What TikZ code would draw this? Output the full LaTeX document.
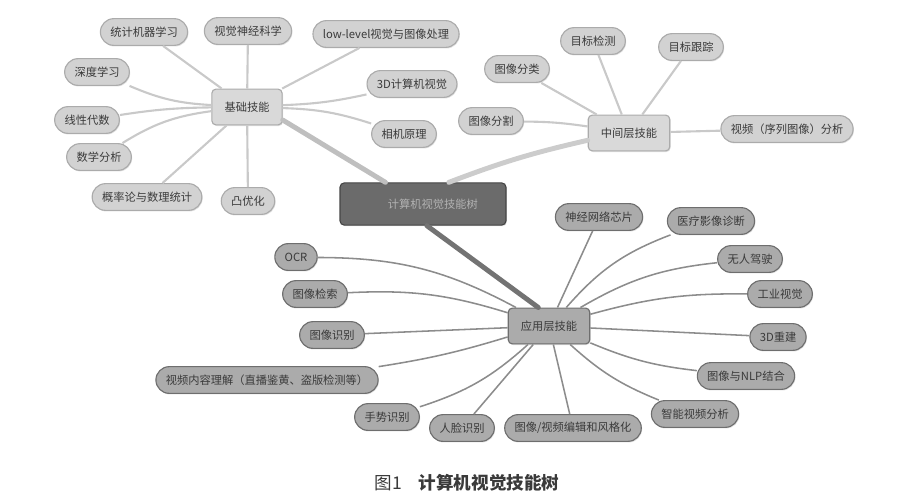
\documentclass[tikz,border=0pt]{standalone}
\usepackage{fontspec}
\newfontfamily\cjk{Noto Sans CJK SC}
\usetikzlibrary{shadows}
\definecolor{lineA}{HTML}{C9C9C9}
\definecolor{lineC}{HTML}{8C8C8C}
\definecolor{fillA}{HTML}{D2D2D2}
\definecolor{drawA}{HTML}{ABABAB}
\definecolor{fillC}{HTML}{ABABAB}
\definecolor{drawC}{HTML}{6E6E6E}
\definecolor{fillR}{HTML}{6B6B6B}
\definecolor{drawR}{HTML}{454545}
\definecolor{inkdark}{HTML}{3A3A3A}
\tikzset{
  every node/.style={font=\cjk\fontsize{8}{9}\selectfont, text=inkdark},
  softshadow/.style={drop shadow={opacity=0.25, shadow xshift=0.6pt, shadow yshift=-0.8pt}},
  leafA/.style={draw=drawA, fill=fillA, line width=0.8pt, rounded corners=9.5pt,
    minimum height=19pt, inner xsep=7pt, inner ysep=0pt, softshadow},
  leafC/.style={leafA, draw=drawC, fill=fillC},
  hubA/.style={draw=drawA, fill=fillA!85!white, line width=0.8pt, rounded corners=3pt,
    minimum height=25.5pt, inner xsep=9pt, softshadow},
  hubC/.style={hubA, draw=drawC, fill=fillC},
  rootbox/.style={draw=drawR, fill=fillR, line width=0.8pt, rounded corners=3pt,
    minimum width=118pt, minimum height=30pt, text=gray!60, softshadow},
  linkA/.style={draw=lineA, line width=1.5pt},
  linkC/.style={draw=lineC, line width=1.1pt},
  trunk/.style={line width=3.5pt, line cap=round}
}
\begin{document}
\begin{tikzpicture}[x=0.025cm,y=-0.025cm]
\useasboundingbox (0,0) rectangle (900,500);
% Draw the root and the three hubs
\node[rootbox] (root) at (423,204) {\hspace{14pt}计算机视觉技能树};
\node[hubA] (jc) at (247,107) {基础技能};
\node[hubA] (zj) at (629,133) {中间层技能};
\node[hubC] (yy) at (549,326) {应用层技能};
% Draw the trunks from the root
\draw[trunk, draw=gray!50] (root.150) to (jc.-20);
\draw[trunk, draw=gray!40] (root.40) to[bend left=4] (zj.-170);
\draw[trunk, draw=gray!110] (root.-80) to (yy.120);
% Draw the basic skills
\foreach \n/\x/\y/\b/\t in {a1/144/32/0/统计机器学习, a2/248/31/0/视觉神经科学,
  a3/386/34/0/low-level视觉与图像处理, a4/412/84/-5/3D计算机视觉, a5/404/134/8/相机原理,
  a6/248/201/0/凸优化, a7/147/197/0/概率论与数理统计, a8/99/157/-12/数学分析,
  a9/87/120/-4/线性代数, a10/97/72/10/深度学习}
{
\node[leafA] (\n) at (\x,\y) {\t};
\draw[linkA] (jc) to[bend left=\b] (\n);
}
% Draw the middle layer skills
\foreach \n/\x/\y/\b/\t in {b1/593/41/0/目标检测, b2/691/47/0/目标跟踪, b3/517/69/0/图像分类,
  b4/491/121/-4/图像分割, b5/787/129/0/视频（序列图像）分析}
{
\node[leafA] (\n) at (\x,\y) {\t};
\draw[linkA] (zj) to[bend left=\b] (\n);
}
% Draw the application layer skills
\node[leafC] (c8) at (573,428) {图像/视频编辑和风格化};
\draw[linkC] (yy) to (c8);
\foreach \n/\x/\y/\b/\t in {c1/296/257/-14/OCR, c2/315/294/-10/图像检索, c3/332/335/0/图像识别,
  c4/267/380/4/视频内容理解（直播鉴黄、盗版检测等）, c5/387/417/12/手势识别, c6/462/428/0/人脸识别,
  c9/695/414/-10/智能视频分析, c10/746/376/-8/图像与NLP结合, c11/778/337/0/3D重建,
  c12/780/294/8/工业视觉, c13/750/259/12/无人驾驶, c14/711/221/14/医疗影像诊断,
  c15/599/217/0/神经网络芯片}
{
\node[leafC] (\n) at (\x,\y) {\t};
\draw[linkC] (yy) to[bend left=\b] (\n);
}
% Caption
\node (cap) at (467,483) {\fontsize{12.5}{14}\selectfont 图1\hspace{12pt}\bfseries 计算机视觉技能树};
\end{tikzpicture}
\end{document}
